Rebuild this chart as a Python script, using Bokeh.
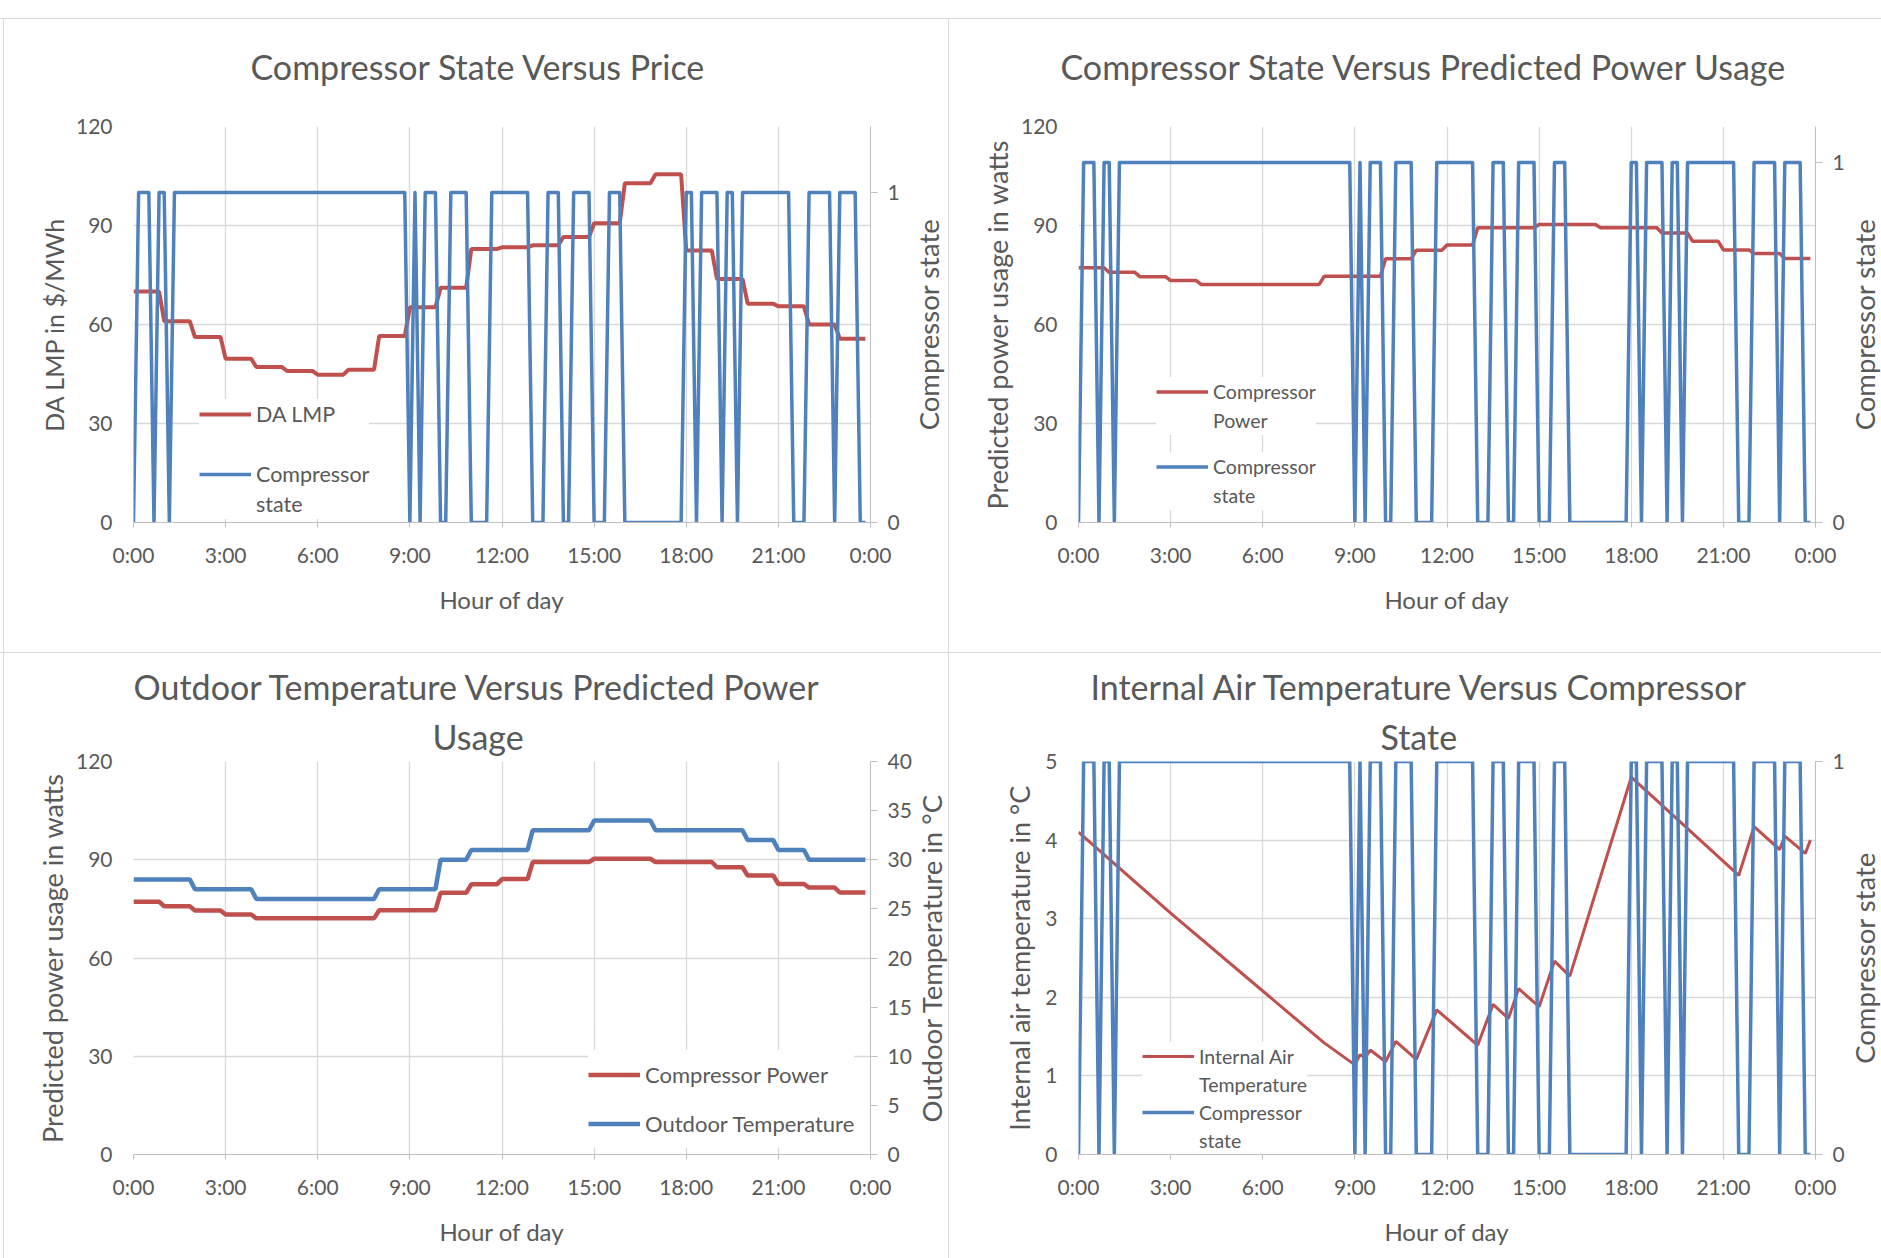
from math import pi
from bokeh.plotting import figure
from bokeh.models import Range1d, LinearAxis, FixedTicker, Legend, LegendItem, Title, Spacer, Label
from bokeh.layouts import row, column
from bokeh.embed import file_html
from bokeh.resources import INLINE

# ---------------- data ----------------
hour_ticks = [0, 3, 6, 9, 12, 15, 18, 21, 24]
hour_labels = ["0:00", "3:00", "6:00", "9:00", "12:00", "15:00", "18:00", "21:00", "0:00"]
hours = list(range(24))

power_ticks = [0, 30, 60, 90, 120]
state_ticks = [0, 1]
temp_ticks = [0, 5, 10, 15, 20, 25, 30, 35, 40]
iat_ticks = [0, 1, 2, 3, 4, 5]

# hourly day-ahead LMP ($/MWh)
da_lmp = [70.0, 61.0, 56.2, 49.6, 47.1, 45.9, 44.8, 46.3, 56.5, 65.2, 71.1, 82.9,
          83.4, 84.0, 86.5, 90.7, 102.8, 105.5, 82.4, 73.8, 66.3, 65.5, 60.0, 55.7]
# hourly predicted compressor power (W)
compressor_power = [77.2, 75.8, 74.5, 73.3, 72.1, 72.1, 72.1, 72.1, 74.6, 74.6, 79.9, 82.5,
                    84.1, 89.3, 89.3, 90.3, 90.3, 89.3, 89.3, 87.7, 85.2, 82.6, 81.5, 80.0]
# hourly outdoor temperature (deg C)
outdoor_temp = [28, 28, 27, 27, 26, 26, 26, 26, 27, 27, 30, 31,
                31, 33, 33, 34, 34, 33, 33, 33, 32, 31, 30, 30]

# compressor on/off state (vertices of the 10-minute series, hour of day)
cs_hour = [0, 0.167, 0.5, 0.667, 0.833, 1.0, 1.167, 1.333, 8.833, 9.0,
           9.167, 9.333, 9.5, 9.833, 10.0, 10.167, 10.333, 10.833, 11.0, 11.5,
           11.667, 12.833, 13.0, 13.333, 13.5, 13.833, 14.0, 14.167, 14.333, 14.833,
           15.0, 15.333, 15.5, 15.833, 16.0, 17.833, 18.0, 18.167, 18.333, 18.5,
           19.0, 19.167, 19.333, 19.5, 19.667, 19.833, 21.333, 21.5, 21.833, 22.0,
           22.667, 22.833, 23.0, 23.5, 23.667, 23.833]
cs_state = [0, 1, 1, 0, 1, 1, 0, 1, 1, 0,
            1, 0, 1, 1, 0, 0, 1, 1, 0, 0,
            1, 1, 0, 0, 1, 1, 0, 0, 1, 1,
            0, 0, 1, 1, 0, 0, 1, 1, 0, 1,
            1, 0, 1, 1, 0, 1, 1, 0, 0, 1,
            1, 0, 1, 1, 0, 0]

# internal air temperature (deg C), vertices
iat_hour = [0, 3, 6, 8, 9.0, 9.167, 9.333, 9.5, 10.0, 10.333, 11.0, 11.667, 13.0,
            13.5, 14.0, 14.333, 15.0, 15.5, 16.0, 18.0, 21.5, 22.0, 22.833, 23.0,
            23.667, 23.833]
iat_value = [4.10, 3.07, 2.08, 1.42, 1.14, 1.27, 1.23, 1.33, 1.18, 1.44, 1.21, 1.84, 1.39,
             1.91, 1.73, 2.11, 1.88, 2.46, 2.27, 4.80, 3.55, 4.17, 3.88, 4.05,
             3.83, 4.00]

# ---------------- styling ----------------
FONT = "Lato"
TXT = "#595959"
GRID = "#d9d9d9"
AXIS = "#bfbfbf"
RED = "#C0504D"
BLUE = "#4F81BD"
HOLD = 5 / 6  # an hourly value holds until ten minutes before the next hour


def hourly_steps(values):
    xs, ys = [], []
    for h, v in zip(hours, values):
        xs.extend([h, h + HOLD])
        ys.extend([v, v])
    return xs, ys


def base_fig(width, height, left, right, top, bottom, y_end, y_ticks, y_label,
             y_label_size="27px", y_label_standoff=4):
    p = figure(width=width, height=height, x_range=Range1d(0, 24), y_range=Range1d(0, y_end),
               output_backend="svg", toolbar_location=None, title=None,
               min_border_left=left, min_border_right=right,
               min_border_top=top, min_border_bottom=bottom)
    p.outline_line_color = None
    p.border_fill_color = "white"
    p.background_fill_color = "white"

    xa = p.xaxis[0]
    xa.ticker = FixedTicker(ticks=hour_ticks)
    xa.major_label_overrides = dict(zip(hour_ticks, hour_labels))
    xa.axis_line_color = AXIS
    xa.major_tick_line_color = AXIS
    xa.major_tick_out = 5
    xa.major_tick_in = 0
    xa.minor_tick_out = 0
    xa.minor_tick_in = 0
    xa.major_label_standoff = 14
    xa.major_label_text_font = FONT
    xa.major_label_text_font_size = "21px"
    xa.major_label_text_color = TXT
    xa.axis_label = "Hour of day"
    xa.axis_label_standoff = 15
    xa.axis_label_text_font = FONT
    xa.axis_label_text_font_size = "24px"
    xa.axis_label_text_font_style = "normal"
    xa.axis_label_text_color = TXT

    ya = p.yaxis[0]
    ya.ticker = FixedTicker(ticks=y_ticks)
    ya.axis_line_color = None
    ya.major_tick_line_color = None
    ya.minor_tick_line_color = None
    ya.major_label_standoff = 15
    ya.major_label_text_font = FONT
    ya.major_label_text_font_size = "21px"
    ya.major_label_text_color = TXT
    ya.axis_label = y_label
    ya.axis_label_standoff = y_label_standoff
    ya.axis_label_text_font = FONT
    ya.axis_label_text_font_size = y_label_size
    ya.axis_label_text_font_style = "normal"
    ya.axis_label_text_color = TXT

    p.xgrid.grid_line_color = GRID
    p.ygrid.grid_line_color = GRID
    p.xgrid.grid_line_width = 1.3
    p.ygrid.grid_line_width = 1.3
    return p


def add_right_axis(p, name, end, ticks):
    p.extra_y_ranges = {name: Range1d(0, end)}
    ra = LinearAxis(y_range_name=name, ticker=FixedTicker(ticks=ticks))
    ra.axis_line_color = AXIS
    ra.major_tick_line_color = AXIS
    ra.major_tick_out = 7
    ra.major_tick_in = 0
    ra.minor_tick_out = 0
    ra.minor_tick_in = 0
    ra.major_label_standoff = 10
    ra.major_label_text_font = FONT
    ra.major_label_text_font_size = "21px"
    ra.major_label_text_color = TXT
    p.add_layout(ra, "right")


def label_strip(width, height, top, bottom, y_end, text, x_off, size="27.5px"):
    """Narrow panel beside a chart that carries its secondary-axis title,
    rotated to read bottom-to-top and centred on the chart's plot area."""
    s = figure(width=width, height=height, x_range=Range1d(0, 1), y_range=Range1d(0, y_end),
               x_axis_type=None, y_axis_type=None, output_backend="svg",
               toolbar_location=None, title=None, min_border_left=0, min_border_right=0,
               min_border_top=top, min_border_bottom=bottom)
    s.outline_line_color = None
    s.border_fill_color = "white"
    s.background_fill_color = "white"
    s.add_layout(Label(x=0, y=y_end / 2, x_offset=x_off, text=text, angle=pi / 2,
                       text_align="center", text_baseline="middle", text_font=FONT,
                       text_font_size=size, text_color=TXT))
    return s


def add_title(p, text, offset, standoff, size="34px"):
    p.add_layout(Title(text=text, align="left", offset=offset, standoff=standoff,
                       text_font=FONT, text_font_size=size, text_color=TXT,
                       text_font_style="normal"), "above")


def add_legend(p, entries, loc, pitch, font_size):
    items = [LegendItem(label=lab, renderers=[r]) for lab, r in entries]
    leg = Legend(items=items, location=loc, label_text_font=FONT,
                 label_text_font_size=font_size, label_text_color=TXT,
                 glyph_width=52, glyph_height=pitch, label_height=pitch, spacing=0,
                 padding=4, margin=0, label_standoff=5, border_line_color=None,
                 background_fill_color="white", background_fill_alpha=1.0)
    p.add_layout(leg)


# ---------------- top-left: state vs price ----------------
tl = base_fig(902, 633, 129, 36, 107, 130, 120, power_ticks, "DA LMP in $/MWh",
              y_label_size="25px")
add_right_axis(tl, "state", 1.2, state_ticks)
lx, ly = hourly_steps(da_lmp)
r1 = tl.line(lx, ly, color=RED, line_width=4)
r2 = tl.line(cs_hour, cs_state, y_range_name="state", color=BLUE, line_width=3.5, line_join="round")
d1 = tl.line(x=[], y=[], line_alpha=0)
add_legend(tl, [("DA LMP", r1), (" ", d1), ("Compressor", r2), ("state", d1)], (66, 3), 30, "21.5px")
add_title(tl, " ", 0, 35, size="1px")           # spacing between frame and title
add_title(tl, "Compressor State Versus Price", 117, 4)
tl_lab = label_strip(42, 633, 107, 130, 120, "Compressor state", 22)

# ---------------- top-right: state vs predicted power ----------------
tr = base_fig(898, 633, 129, 32, 107, 130, 120, power_ticks, "Predicted power usage in watts")
add_right_axis(tr, "state", 1.1, state_ticks)
px_, py_ = hourly_steps(compressor_power)
r3 = tr.line(px_, py_, color=RED, line_width=3.5)
r4 = tr.line(cs_hour, cs_state, y_range_name="state", color=BLUE, line_width=3.5, line_join="round")
d2 = tr.line(x=[], y=[], line_alpha=0)
add_legend(tr, [("Compressor", r3), ("Power", d2)], (78, 87), 29, "19.5px")
add_legend(tr, [("Compressor", r4), ("state", d2)], (78, 12.5), 29, "19.5px")
add_title(tr, " ", 0, 35, size="1px")
add_title(tr, "Compressor State Versus Predicted Power Usage", -18, 4)
tr_lab = label_strip(34, 633, 107, 130, 120, "Compressor state", 17)

# ---------------- bottom-left: outdoor temperature vs power ----------------
bl = base_fig(910, 605, 129, 44, 108, 104, 120, power_ticks, "Predicted power usage in watts")
add_right_axis(bl, "temp", 40, temp_ticks)
r5 = bl.line(px_, py_, color=RED, line_width=4.5)
tx, ty = hourly_steps(outdoor_temp)
r6 = bl.line(tx, ty, y_range_name="temp", color=BLUE, line_width=4.5)
add_legend(bl, [("Compressor Power", r5), ("Outdoor Temperature", r6)], (455, 6.5), 49, "22px")
add_title(bl, "Usage", 299, 9)
add_title(bl, "Outdoor Temperature Versus Predicted Power", 0, 6)
bl_lab = label_strip(34, 605, 108, 104, 120, "Outdoor Temperature in °C", 17, size="27.5px")

# ---------------- bottom-right: internal air temperature vs state ----------------
br = base_fig(898, 605, 129, 32, 108, 104, 5, iat_ticks, "Internal air temperature in °C",
              y_label_standoff=6)
add_right_axis(br, "state", 1.0, state_ticks)
r7 = br.line(iat_hour, iat_value, color=RED, line_width=3)
r8 = br.line(cs_hour, cs_state, y_range_name="state", color=BLUE, line_width=3.5, line_join="round")
d3 = br.line(x=[], y=[], line_alpha=0)
add_legend(br, [("Internal Air", r7), ("Temperature", d3), ("Compressor", r8), ("state", d3)],
           (64, 0), 28, "19.5px")
add_title(br, "State", 302, 9)
add_title(br, "Internal Air Temperature Versus Compressor", 12, 6)
br_lab = label_strip(34, 605, 108, 104, 5, "Compressor state", 17)

WHITE = {"background-color": "white"}
GREY = {"background-color": "#d9d9d9"}
top_row = row(Spacer(width=3, height=633, styles=WHITE), Spacer(width=1, height=633, styles=GREY),
              tl, tl_lab, Spacer(width=1, height=633, styles=GREY), tr, tr_lab, spacing=0)
bottom_row = row(Spacer(width=3, height=605, styles=WHITE), Spacer(width=1, height=605, styles=GREY),
                 bl, bl_lab, Spacer(width=1, height=605, styles=GREY), br, br_lab, spacing=0)
layout = column(Spacer(width=1881, height=18, styles=WHITE),
                Spacer(width=1881, height=1, styles=GREY), top_row,
                Spacer(width=1881, height=1, styles=GREY), bottom_row,
                spacing=0, styles=WHITE)

open("out.html", "w").write(file_html(layout, INLINE))
